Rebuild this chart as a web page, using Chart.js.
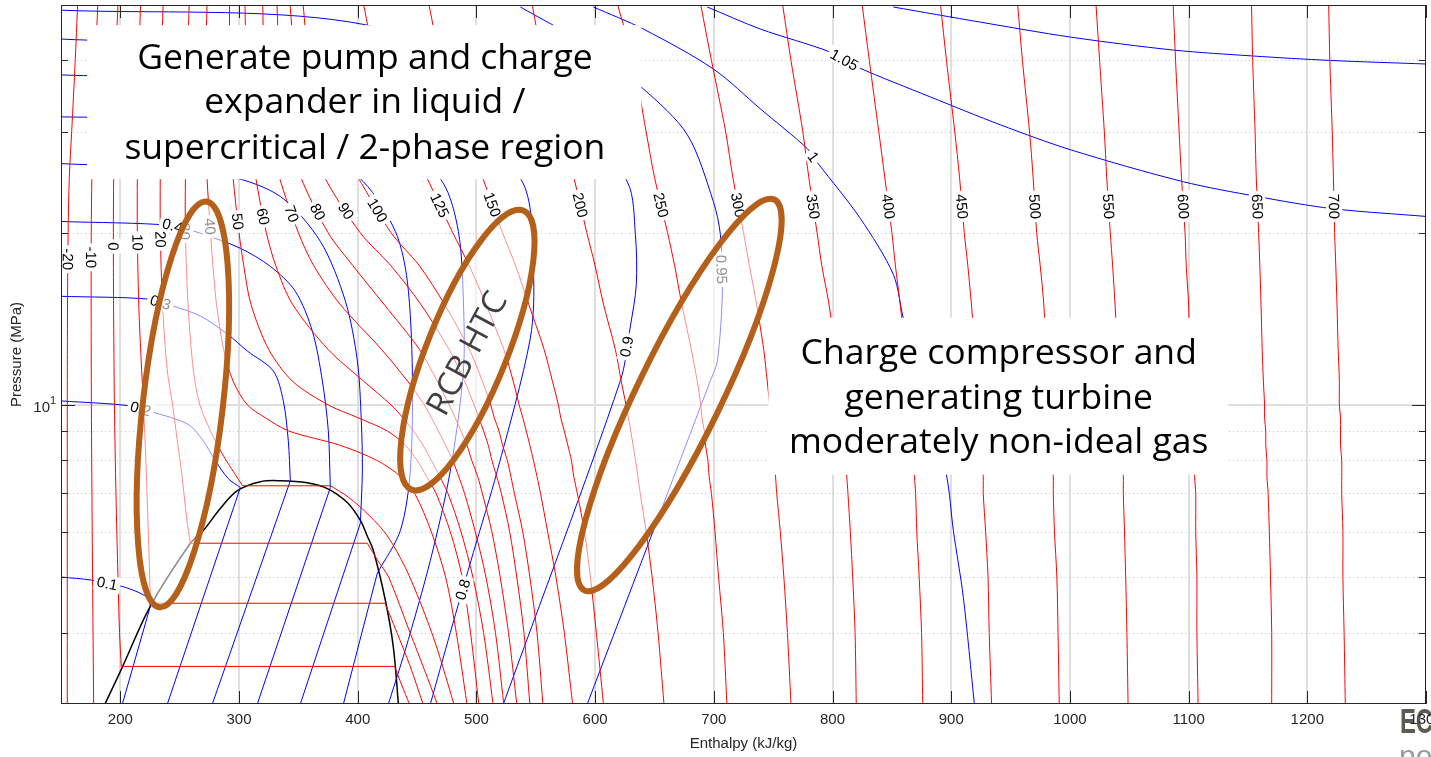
<!DOCTYPE html>
<html>
<head>
<meta charset="utf-8">
<title>CO2 pressure-enthalpy diagram</title>
<script src="https://cdn.jsdelivr.net/npm/chart.js@4.4.1/dist/chart.umd.min.js"></script>
<style>
  html, body { margin: 0; padding: 0; background: #fff; overflow: hidden; }
</style>
</head>
<body>
<canvas id="phChart" width="1431" height="757"></canvas>
<script>
// ---- axes
const xTicks = [200, 300, 400, 500, 600, 700, 800, 900, 1000, 1100, 1200, 1300];
const yMinorTicks = [4, 5, 6, 7, 8, 9, 20, 30, 40];
const yMajorTicks = [10];

// ---- isotherms above the critical temperature (deg C), enthalpy kJ/kg at each pressure (MPa)
const pressureGrid = [50, 40, 30, 25, 20, 17.5, 15, 12.5, 11, 10, 9.5, 9, 8.5, 8, 7.5, 7, 6, 5, 4, 3];
const superTemps = [40, 50, 60, 70, 80, 90, 100, 125, 150, 200, 250, 300, 350, 400, 450, 500, 550, 600, 650, 700];
const superEnthalpy = [
  [273, 272, 272, 273, 276, 278, 281, 287, 295, 307, 322, 342, 385, 416, 436, 448, 462, 474, 483, 492],
  [292, 292, 293, 295, 300, 304, 310, 325, 345, 375, 400, 425, 440, 450, 458, 466, 478, 488, 495, 502],
  [305, 306, 309, 314, 323, 331, 345, 375, 405, 428, 438, 447, 455, 462, 469, 476, 487, 497, 506, 514],
  [320, 321, 326, 334, 350, 363, 385, 420, 442, 456, 462, 468, 474, 480, 485, 490, 499, 508, 516, 523],
  [332, 334, 341, 352, 375, 396, 422, 452, 467, 477, 482, 487, 492, 496, 501, 505, 513, 520, 527, 534],
  [343, 347, 357, 372, 402, 428, 453, 477, 490, 498, 502, 506, 510, 513, 517, 521, 528, 534, 540, 545],
  [354, 359, 375, 400, 428, 452, 473, 494, 505, 512, 515, 519, 522, 526, 529, 532, 539, 545, 551, 556],
  [405, 415, 438, 458, 480, 494, 508, 523, 531, 536, 539, 542, 545, 548, 551, 554, 560, 567, 574, 581],
  [460, 470, 490, 505, 522, 533, 544, 557, 564, 569, 571, 574, 577, 580, 582, 585, 591, 596, 601, 607],
  [547, 556, 572, 582, 593, 600, 607, 617, 622, 626, 628, 630, 632, 634, 636, 638, 643, 648, 653, 658],
  [619, 632, 643, 650, 661, 667, 673, 681, 686, 689, 690, 692, 693, 695, 696, 698, 701, 704, 708, 711],
  [689, 698, 710, 716, 725, 730, 736, 742, 745, 747, 748, 749, 750, 751, 752, 753, 756, 759, 762, 765],
  [758, 765, 775, 780, 787, 791, 797, 802, 805, 807, 808, 809, 810, 811, 812, 813, 815, 817, 819, 820],
  [825, 831, 839, 844, 850, 853, 857, 861, 863, 865, 866, 866, 867, 868, 869, 870, 871, 873, 875, 876],
  [891, 896, 903, 907, 911, 914, 917, 920, 922, 923, 924, 925, 925, 926, 927, 927, 929, 931, 932, 934],
  [956, 960, 966, 969, 972, 975, 978, 980, 982, 983, 984, 984, 985, 985, 986, 986, 987, 989, 990, 991],
  [1022, 1025, 1029, 1031, 1034, 1036, 1038, 1040, 1041, 1042, 1043, 1043, 1044, 1044, 1045, 1045, 1046, 1047, 1048, 1049],
  [1087, 1089, 1092, 1094, 1097, 1098, 1100, 1101, 1102, 1103, 1103, 1104, 1104, 1105, 1105, 1106, 1106, 1107, 1107, 1108],
  [1153, 1154, 1156, 1157, 1159, 1160, 1161, 1162, 1163, 1164, 1164, 1165, 1165, 1166, 1166, 1167, 1168, 1169, 1170, 1170],
  [1218, 1219, 1221, 1222, 1223, 1224, 1225, 1226, 1227, 1227, 1228, 1228, 1228, 1229, 1229, 1229, 1230, 1230, 1231, 1232]
];

// ---- compressed-liquid isotherms that never reach the dome in range
const liquidTemps = [-20, -10];
const liquidPressures = [50, 40, 30, 25, 20, 15, 10, 6, 3];
const liquidEnthalpy = [
  [164, 162, 159, 157, 156, 155.5, 155.3, 155.3, 155.3],
  [181, 179, 177, 176, 175.5, 175.4, 175.6, 176.3, 177.5]
];

// ---- subcritical isotherms: liquid branch down to saturation, vapour branch from saturation
const subTemps = [0, 10, 20, 30];
const subLiquid = [
  [[198, 50], [196, 40], [195, 30], [194.4, 25], [194.1, 20], [194.3, 15], [195, 10], [196.3, 7], [198, 5], [199.3, 4], [200.8, 3.49]],
  [[217, 50], [215.6, 40], [214.6, 30], [214.3, 25], [214.3, 20], [215.5, 15], [217.5, 12], [219.5, 10], [221.5, 8], [223, 6.5], [224.5, 5.2], [225.3, 4.5]],
  [[236, 50], [234.6, 40], [233.8, 30], [233.6, 25], [233.7, 20], [235.5, 15], [239.5, 11.5], [244, 10], [248, 8.65], [252, 7.5], [256, 6.3], [259, 5.73]],
  [[258, 50], [256.5, 40], [255.3, 30], [254.8, 25], [254.8, 20], [257, 15], [261.5, 11.5], [267, 10], [276, 9], [286, 8.2], [296, 7.6], [303, 7.22]]
];
const subVapor = [
  [[431, 3.49], [437, 3.24], [443.5, 3]],
  [[423, 4.5], [433, 4.0], [444, 3.5], [455, 3]],
  [[408, 5.73], [418, 5.3], [426, 5], [444, 4], [456, 3.45], [467, 3]],
  [[377, 7.22], [392, 6.9], [410, 6.4], [425, 5.9], [440, 5.2], [453, 4.5], [466, 3.8], [481, 3]]
];

// ---- saturation dome
const domeH = [187.4, 201.7, 225.3, 259, 269.9, 284.2, 298.6, 317.9, 334.8, 357.5, 374.4, 391.2, 402.2, 408, 413.1, 423.3, 430, 434.2];
const domeP = [3.01, 3.48, 4.45, 5.73, 6.03, 6.59, 7.08, 7.34, 7.37, 7.31, 7.14, 6.75, 6.28, 5.9, 5.57, 4.55, 3.77, 3.01];

// ---- compressibility factor contours
const zLevels = [0.1, 0.2, 0.3, 0.4, 0.5, 0.6, 0.7, 0.8, 0.9, 0.95, 1.0, 1.05, 1.1];
const zCurves = [
  [[150.3, 5.0], [175.6, 4.94], [202.5, 4.81], [222.7, 4.61], [225.3, 4.45]],
  [[150.3, 10.16], [208.4, 9.96], [229.5, 9.68], [246.3, 9.45], [259, 9.19], [269.9, 8.65], [280, 7.99], [291, 7.43], [301.1, 7.17]],
  [[150.3, 15.48], [225.3, 15.3], [244.6, 14.88], [267.4, 14.3], [290.1, 13.3], [307, 12.42], [328.9, 11.46], [337.3, 10.16], [341.5, 8.65], [343.2, 7.37]],
  [[150.3, 20.92], [243.8, 20.59], [267.4, 19.95], [301.1, 18.78], [326.4, 17.46], [347.4, 15.8], [361.8, 13.45], [370.2, 11.01], [375.2, 9.01], [376.9, 7.17]],
  [[150.3, 26.4], [225.3, 25.99], [292.7, 25.06], [334.8, 23.13], [368.5, 19.31], [389.6, 15.18], [399.7, 11.93], [403, 9.38], [403.9, 7.67], [402.2, 6.21]],
  [[150.3, 31.87], [267.4, 31.49], [351.6, 29.42], [404.7, 24.55], [431.7, 20.1], [441.8, 16.44], [446, 11.46], [444.3, 7.67], [435.9, 6.03], [416.5, 5.08]],
  [[150.3, 37.73], [309.5, 36.69], [419, 32.53], [471.3, 24.55], [484.8, 20.1], [489, 15.18], [489, 11.46], [478, 7.67], [461.2, 5.35], [440.1, 3.73], [425.8, 3.0]],
  [[150.3, 43.6], [351.6, 41.37], [478, 32.53], [538.7, 24.55], [548, 17.12], [545.4, 13.08], [517.6, 7.67], [497.4, 5.52], [478, 4.0], [461.2, 3.0]],
  [[150.3, 48.97], [393.8, 46.67], [570.7, 35.24], [627.1, 24.55], [633.9, 19.86], [634.7, 16.25], [629.7, 13.73], [621.2, 11.01], [522.7, 3.0]],
  [[537, 49.6], [588.5, 43.06], [640.6, 35.67], [677.7, 29.66], [699.6, 22.67], [705.5, 19.86], [707.2, 15.8], [703, 11.93], [697, 11.01], [593.4, 3.0]],
  [[598.5, 49.6], [640.6, 45.39], [699.6, 38.65], [739.2, 32.92], [778.8, 28.04], [788, 26.4], [823.4, 21.18], [851.2, 16.91], [859.6, 14.18], [878.2, 10.16], [895.9, 7.55], [901.8, 6.03], [910.2, 4.61], [919.5, 3.0]],
  [[694.5, 49.6], [739.2, 45.39], [798.1, 41.37], [820.9, 38.96], [882.4, 34.54], [941.4, 30.87], [1000.3, 27.93], [1095.5, 24.55], [1157.9, 23.13], [1221, 22.03], [1300, 21.35]],
  [[851.2, 49.6], [924.5, 46.67], [1000.3, 43.95], [1087.1, 41.71], [1154.5, 40.72], [1219.4, 40], [1300, 39.43]]
];
// straight runs of the first six contours inside the two-phase dome
const zTwoPhase = [
  [[225.3, 4.45], [201.7, 3.0]],
  [[301.1, 7.17], [239.6, 3.0]],
  [[343.2, 7.37], [277.5, 3.0]],
  [[376.9, 7.17], [315.4, 3.0]],
  [[402.2, 6.21], [351.6, 3.0]],
  [[416.5, 5.08], [387.9, 3.0]]
];

// ---- inline contour labels: [text, enthalpy, pressure] near where each is printed
const isoLabelSpots = [
  ['-20', 156, 17.97], ['-10', 176, 18.11], ['0', 194, 18.92], ['10', 213, 19.23], ['20', 232, 19.46],
  ['30', 255, 20.1], ['40', 276, 20.5], ['50', 299, 20.92], ['60', 320, 21.34], ['70', 345, 21.6],
  ['80', 367, 21.78], ['90', 392, 21.95], ['100', 415, 21.78], ['125', 467, 22.22], ['150', 513, 22.39],
  ['200', 589, 22.39], ['250', 657, 22.39], ['300', 722, 22.39], ['350', 784, 22.22], ['400', 847, 22.22],
  ['450', 909, 22.22], ['500', 971, 22.22], ['550', 1032, 22.22], ['600', 1095, 22.22], ['650', 1158, 22.22],
  ['700', 1221, 22.22]
];
const zLabelSpots = [
  ['0.1', 0, 189, 4.88], ['0.2', 1, 217, 9.84], ['0.3', 2, 234, 15.18], ['0.4', 3, 244, 20.59],
  ['0.8', 7, 488, 4.76], ['0.9', 8, 624, 12.67], ['0.95', 9, 704, 17.25], ['1', 10, 784, 27.16],
  ['1.05', 11, 809, 39.75]
];

// ---- annotations (enthalpy / pressure coordinates)
const highlightEllipses = [
  { from: [272.5, 22.67], to: [232.9, 4.43], minor: 40 },
  { from: [539.5, 21.86], to: [445.2, 7.11], minor: 40 },
  { from: [751, 22.85], to: [590.9, 4.74], minor: 42 }
];
const noteBoxes = [
  { h: [172, 639], p: [46.1, 24.8], cx: 406, lines: ['Generate pump and charge', 'expander in liquid /', 'supercritical / 2-phase region'], py: [40.2, 33.7, 28.0] },
  { h: [746, 1133], p: [14.2, 7.55], cx: 940, lines: ['Charge compressor and', 'generating turbine', 'moderately non-ideal gas'], py: [12.3, 10.24, 8.59] }
];
const ellipseNote = { text: 'RCB HTC', h: 493, p: 12.27, angle: -62 };

const RED = '#ff0000', BLUE = '#0000ff';
const TICK_FONT = '15px "Liberation Sans", Arial, sans-serif';

function pts(list) { return list.map(([h, p]) => ({ x: h, y: p })); }
function line(list, color, width, tension) {
  return { data: pts(list), borderColor: color, borderWidth: width, pointRadius: 0, tension: tension, fill: false };
}

const datasets = [];
const isoCurves = {};   // temperature -> list used for label placement

liquidTemps.forEach((t, i) => {
  const c = liquidEnthalpy[i].map((h, j) => [h, liquidPressures[j]]);
  isoCurves[t] = c;
  datasets.push(line(c, RED, 1, 0.3));
});
subTemps.forEach((t, i) => {
  const liq = subLiquid[i], vap = subVapor[i];
  isoCurves[t] = liq;
  datasets.push(line(liq, RED, 1, 0.3));
  datasets.push(line([liq[liq.length - 1], vap[0]], RED, 1, 0));
  datasets.push(line(vap, RED, 1, 0.3));
});
superTemps.forEach((t, i) => {
  const c = superEnthalpy[i].map((h, j) => [h, pressureGrid[j]]);
  isoCurves[t] = c;
  datasets.push(line(c, RED, 1, 0.3));
});
zCurves.forEach(c => datasets.push(line(c, BLUE, 1, 0.3)));
zTwoPhase.forEach(c => datasets.push(line(c, BLUE, 1, 0)));
datasets.push(line(domeH.map((h, i) => [h, domeP[i]]), '#000000', 1.5, 0.35));

// nearest point on a curve (pixel space) and the local direction there
function spotOnCurve(chart, curve, h, p) {
  const { x, y } = chart.scales;
  const tx = x.getPixelForValue(h), ty = y.getPixelForValue(p);
  const px = curve.map(([a, b]) => [x.getPixelForValue(a), y.getPixelForValue(b)]);
  let best = null;
  for (let i = 0; i < px.length - 1; i++) {
    const [x1, y1] = px[i], [x2, y2] = px[i + 1];
    const dx = x2 - x1, dy = y2 - y1, len2 = dx * dx + dy * dy || 1;
    const t = Math.max(0, Math.min(1, ((tx - x1) * dx + (ty - y1) * dy) / len2));
    const qx = x1 + t * dx, qy = y1 + t * dy;
    const d = (qx - tx) ** 2 + (qy - ty) ** 2;
    if (!best || d < best.d) best = { d, x: qx, y: qy, ang: Math.atan2(dy, dx) };
  }
  let a = best.ang * 180 / Math.PI;
  if (a > 100) a -= 180;
  if (a <= -80) a += 180;
  return { x: best.x, y: best.y, ang: a };
}

function drawInlineLabel(ctx, text, s) {
  ctx.save();
  ctx.translate(s.x, s.y);
  ctx.rotate(s.ang * Math.PI / 180);
  ctx.font = TICK_FONT;
  const w = ctx.measureText(text).width;
  ctx.fillStyle = '#ffffff';
  ctx.fillRect(-w / 2 - 3, -8, w + 6, 16);
  ctx.fillStyle = '#000000';
  ctx.textAlign = 'center';
  ctx.textBaseline = 'middle';
  ctx.fillText(text, 0, 1);
  ctx.restore();
}

const phDecor = {
  id: 'phDecor',
  beforeDatasetsDraw(chart) {
    const { ctx, chartArea: a, scales: { x, y } } = chart;
    ctx.save();
    ctx.beginPath();
    ctx.rect(a.left, a.top, a.right - a.left, a.bottom - a.top);
    ctx.clip();
    ctx.strokeStyle = '#dfdfdf';
    ctx.lineWidth = 2;
    xTicks.forEach(v => {
      const px = Math.round(x.getPixelForValue(v));
      ctx.beginPath(); ctx.moveTo(px, a.top); ctx.lineTo(px, a.bottom); ctx.stroke();
    });
    yMajorTicks.forEach(v => {
      const py = Math.round(y.getPixelForValue(v));
      ctx.beginPath(); ctx.moveTo(a.left, py); ctx.lineTo(a.right, py); ctx.stroke();
    });
    ctx.strokeStyle = '#c8c8c8';
    ctx.lineWidth = 1;
    ctx.setLineDash([1, 3]);
    yMinorTicks.forEach(v => {
      const py = Math.round(y.getPixelForValue(v)) + 0.5;
      ctx.beginPath(); ctx.moveTo(a.left, py); ctx.lineTo(a.right, py); ctx.stroke();
    });
    ctx.restore();
  },
  afterDatasetsDraw(chart) {
    const { ctx, chartArea: a, scales: { x, y } } = chart;

    // contour labels
    isoLabelSpots.forEach(([text, h, p]) => {
      const s = spotOnCurve(chart, isoCurves[Number(text)], h, p);
      drawInlineLabel(ctx, text, s);
    });
    zLabelSpots.forEach(([text, k, h, p]) => {
      drawInlineLabel(ctx, text, spotOnCurve(chart, zCurves[k], h, p));
    });

    // highlighted regions
    ctx.save();
    ctx.beginPath();
    ctx.rect(a.left, a.top, a.right - a.left, a.bottom - a.top);
    ctx.clip();
    highlightEllipses.forEach(e => {
      const x1 = x.getPixelForValue(e.from[0]), y1 = y.getPixelForValue(e.from[1]);
      const x2 = x.getPixelForValue(e.to[0]), y2 = y.getPixelForValue(e.to[1]);
      const cx = (x1 + x2) / 2, cy = (y1 + y2) / 2;
      const r = Math.hypot(x2 - x1, y2 - y1) / 2;
      const rot = Math.atan2(y2 - y1, x2 - x1);
      ctx.beginPath();
      ctx.ellipse(cx, cy, r, e.minor, rot, 0, Math.PI * 2);
      ctx.fillStyle = 'rgba(255,255,255,0.55)';
      ctx.fill();
      ctx.lineWidth = 6;
      ctx.strokeStyle = '#b5601a';
      ctx.stroke();
    });

    // ellipse caption
    ctx.save();
    ctx.translate(x.getPixelForValue(ellipseNote.h), y.getPixelForValue(ellipseNote.p));
    ctx.rotate(ellipseNote.angle * Math.PI / 180);
    ctx.font = '33px "Open Sans", sans-serif';
    ctx.fillStyle = '#404040';
    ctx.textAlign = 'center';
    ctx.textBaseline = 'middle';
    ctx.fillText(ellipseNote.text, 0, 0);
    ctx.restore();

    // text boxes
    noteBoxes.forEach(b => {
      const l = x.getPixelForValue(b.h[0]), r = x.getPixelForValue(b.h[1]);
      const t = y.getPixelForValue(b.p[0]), btm = y.getPixelForValue(b.p[1]);
      ctx.fillStyle = '#ffffff';
      ctx.fillRect(l, t, r - l, btm - t);
      ctx.fillStyle = '#000000';
      ctx.font = '35.5px "Open Sans", sans-serif';
      ctx.textAlign = 'center';
      ctx.textBaseline = 'middle';
      b.lines.forEach((s, i) => ctx.fillText(s, x.getPixelForValue(b.cx), y.getPixelForValue(b.py[i])));
    });
    ctx.restore();

    // frame and inward ticks
    ctx.save();
    ctx.strokeStyle = '#262626';
    ctx.lineWidth = 1;
    ctx.strokeRect(a.left + 0.5, a.top + 0.5, a.right - a.left - 1, a.bottom - a.top - 1);
    ctx.beginPath();
    xTicks.forEach(v => {
      const px = Math.round(x.getPixelForValue(v)) + 0.5;
      ctx.moveTo(px, a.bottom); ctx.lineTo(px, a.bottom - 13);
      ctx.moveTo(px, a.top); ctx.lineTo(px, a.top + 13);
    });
    yMajorTicks.forEach(v => {
      const py = Math.round(y.getPixelForValue(v)) + 0.5;
      ctx.moveTo(a.left, py); ctx.lineTo(a.left + 14, py);
      ctx.moveTo(a.right, py); ctx.lineTo(a.right - 14, py);
    });
    yMinorTicks.forEach(v => {
      const py = Math.round(y.getPixelForValue(v)) + 0.5;
      ctx.moveTo(a.left, py); ctx.lineTo(a.left + 7, py);
      ctx.moveTo(a.right, py); ctx.lineTo(a.right - 7, py);
    });
    ctx.stroke();

    // company mark in the corner, partly off the page
    ctx.save();
    ctx.textAlign = 'left';
    ctx.textBaseline = 'alphabetic';
    ctx.translate(1400, 733);
    ctx.scale(0.68, 1);
    ctx.font = 'bold 35px "Liberation Sans", Arial, sans-serif';
    ctx.fillStyle = '#5a5b52';
    ctx.fillText('ECHOGEN', 0, 0);
    ctx.restore();
    ctx.font = '30px "Liberation Sans", Arial, sans-serif';
    ctx.fillStyle = '#9a9a9a';
    ctx.textAlign = 'left';
    ctx.textBaseline = 'alphabetic';
    ctx.fillText('power systems', 1399, 766);

    // tick labels, axis titles and the single labelled decade
    ctx.fillStyle = '#262626';
    ctx.font = TICK_FONT;
    ctx.textAlign = 'center';
    ctx.textBaseline = 'middle';
    xTicks.forEach(v => ctx.fillText(String(v), x.getPixelForValue(v), a.bottom + 16));
    ctx.fillText('Enthalpy (kJ/kg)', (a.left + a.right) / 2, 744);
    ctx.save();
    ctx.translate(17, (a.top + a.bottom) / 2);
    ctx.rotate(-Math.PI / 2);
    ctx.fillText('Pressure (MPa)', 0, 0);
    ctx.restore();
    const py10 = y.getPixelForValue(10);
    ctx.textAlign = 'right';
    ctx.fillText('10', a.left - 11, py10 + 3);
    ctx.font = '11px "Liberation Sans", Arial, sans-serif';
    ctx.textAlign = 'left';
    ctx.fillText('1', a.left - 11, py10 - 4);
    ctx.restore();
  }
};

new Chart(document.getElementById('phChart'), {
  type: 'line',
  data: { datasets },
  options: {
    animation: false,
    responsive: false,
    events: [],
    layout: { padding: { left: 0, right: 5, top: 5, bottom: 0 }, autoPadding: false },
    plugins: { legend: { display: false }, tooltip: { enabled: false } },
    scales: {
      x: {
        type: 'linear', min: 150, max: 1300,
        afterBuildTicks: s => { s.ticks = xTicks.map(v => ({ value: v })); },
        afterFit: s => { s.height = 53; s.paddingLeft = 0; s.paddingRight = 0; },
        grid: { display: false, drawTicks: false },
        border: { display: false },
        ticks: { display: false }
      },
      y: {
        type: 'logarithmic', min: 3, max: 50,
        afterBuildTicks: s => { s.ticks = []; },
        afterFit: s => { s.width = 61; s.paddingTop = 0; s.paddingBottom = 0; },
        grid: { display: false, drawTicks: false },
        border: { display: false },
        ticks: { display: false }
      }
    }
  },
  plugins: [phDecor]
});
</script>
</body>
</html>
